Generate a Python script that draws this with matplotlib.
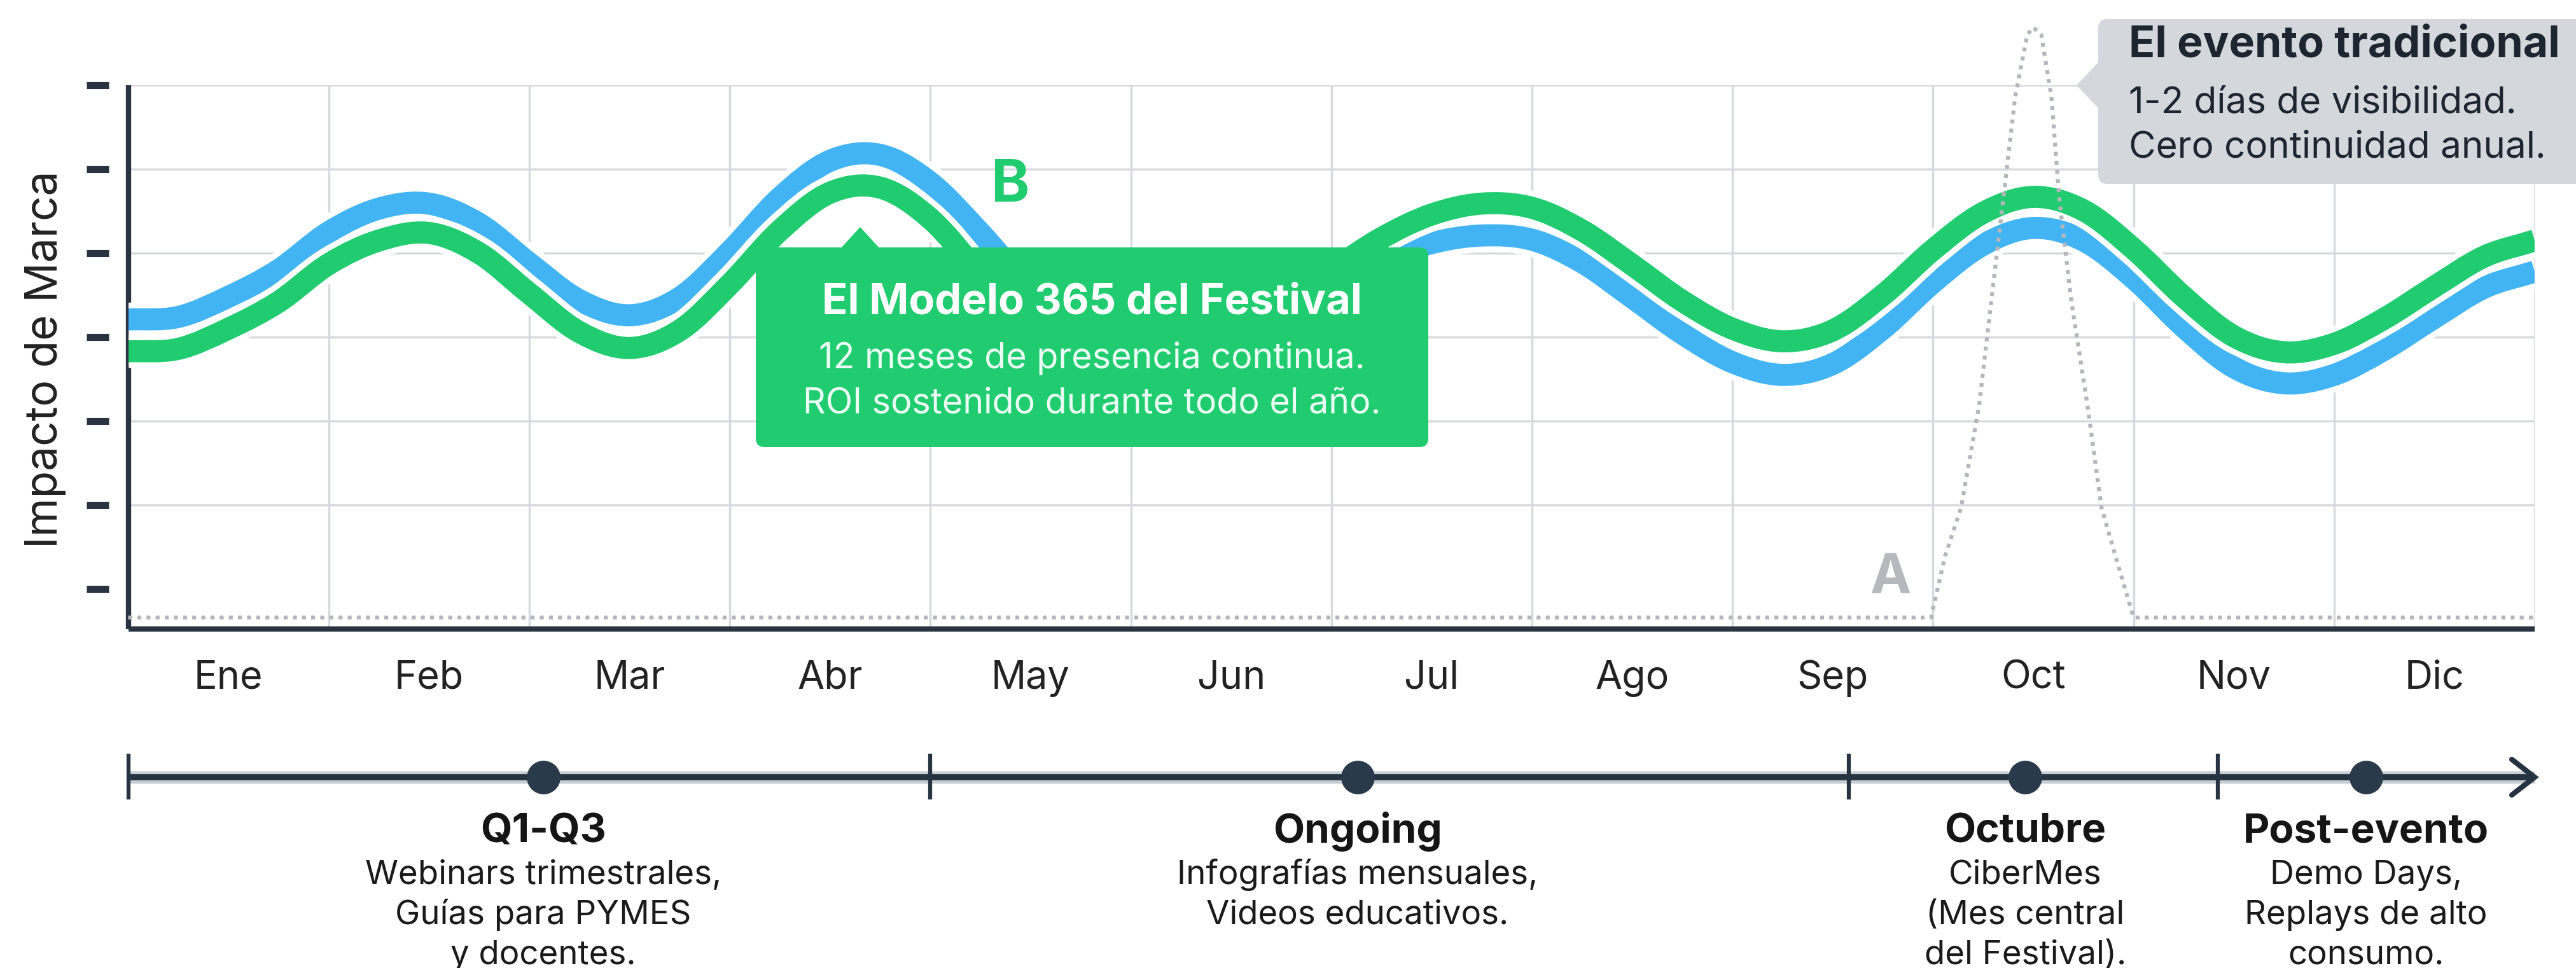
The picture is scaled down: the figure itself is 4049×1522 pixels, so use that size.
import matplotlib
matplotlib.use('Agg')
import matplotlib.pyplot as plt
import matplotlib.patheffects as pe
import numpy as np
from matplotlib.path import Path
from matplotlib.patches import PathPatch, FancyBboxPatch, Polygon

plt.rcParams['font.family'] = ['Inter', 'DejaVu Sans']

# --- data ---
months = ['Ene', 'Feb', 'Mar', 'Abr', 'May', 'Jun', 'Jul', 'Ago', 'Sep', 'Oct', 'Nov', 'Dic']

# curves sampled every quarter month, 0 .. 12
x_quarter = np.linspace(0, 12, 49)
serie_azul = [3.21, 3.24, 3.48, 3.80, 4.25, 4.53, 4.59, 4.35, 3.88, 3.44, 3.26, 3.47, 4.02,
              4.66, 5.10, 5.17, 4.84, 4.24, 3.57, 3.05, 2.85, 2.91, 3.09, 3.35, 3.64, 3.91,
              4.12, 4.21, 4.16, 3.89, 3.47, 3.04, 2.70, 2.55, 2.68, 3.10, 3.65, 4.10, 4.30,
              4.15, 3.70, 3.12, 2.64, 2.45, 2.55, 2.85, 3.23, 3.59, 3.78]
serie_verde = [2.83, 2.86, 3.10, 3.42, 3.87, 4.15, 4.24, 4.00, 3.52, 3.06, 2.87, 3.08, 3.63,
               4.27, 4.72, 4.78, 4.41, 3.74, 3.04, 2.58, 2.51, 2.67, 2.97, 3.36, 3.79, 4.18,
               4.46, 4.59, 4.54, 4.27, 3.86, 3.43, 3.10, 2.95, 3.08, 3.50, 4.04, 4.48, 4.67,
               4.51, 4.05, 3.48, 3.01, 2.82, 2.92, 3.22, 3.60, 3.96, 4.15]

# traditional event (A): flat line with a one-off spike in October
evento_x = [0, 8.99, 9.06, 9.14, 9.23, 9.29, 9.35, 9.41, 9.47, 9.50, 9.54, 9.59, 9.63,
            9.69, 9.77, 9.84, 9.91, 10.0, 12]
evento_y = [-0.34, -0.34, 0.39, 0.97, 2.19, 3.42, 4.64, 5.87, 6.60, 6.69, 6.60, 5.87, 4.64,
            3.42, 2.19, 0.97, 0.39, -0.34, -0.34]

y_ticks = [0, 1, 2, 3, 4, 5, 6]

# timeline below
fase_limite = [0, 4.0, 8.58, 10.42]
fase_punto = [2.07, 6.13, 9.46, 11.16]
fase_titulo = ['Q1-Q3', 'Ongoing', 'Octubre', 'Post-evento']
fase_texto = [['Webinars trimestrales,', 'Guías para PYMES', 'y docentes.'],
              ['Infografías mensuales,', 'Videos educativos.'],
              ['CiberMes', '(Mes central', 'del Festival).'],
              ['Demo Days,', 'Replays de alto', 'consumo.']]

# --- style ---
W, H = 4049, 1522
AZUL = '#42b4f3'
VERDE = '#20cc6f'
OSCURO = '#2a3440'
GRIS_GRID = '#d6d9dd'


def smooth_path(xs, ys):
    # Catmull-Rom through the read points, drawn as cubic Bezier pieces
    p = np.column_stack([xs, ys])
    ext = np.vstack([2 * p[0] - p[1], p, 2 * p[-1] - p[-2]])
    verts = [p[0]]
    codes = [Path.MOVETO]
    for i in range(1, len(ext) - 2):
        c1 = ext[i] + (ext[i + 1] - ext[i - 1]) / 6
        c2 = ext[i + 1] - (ext[i + 2] - ext[i]) / 6
        verts += [c1, c2, ext[i + 1]]
        codes += [Path.CURVE4] * 3
    return Path(verts, codes)


fig = plt.figure(figsize=(W / 100, H / 100), dpi=100)
fig.patch.set_facecolor('white')

# main chart
ax = fig.add_axes([201.5 / W, 1 - 989 / H, (3984 - 201.5) / W, (989 - 134) / H])
ax.set_xlim(0, 12)
ax.set_ylim(-0.477, 6.0)
ax.set_facecolor('white')

for s in ['top', 'right']:
    ax.spines[s].set_visible(False)
for s in ['left', 'bottom']:
    ax.spines[s].set_color(OSCURO)
    ax.spines[s].set_linewidth(6)
    ax.spines[s].set_capstyle('butt')

ax.set_xticks(range(1, 13))
ax.set_xticklabels([])
ax.set_xticks(np.arange(12) + 0.5, labels=months, minor=True)
ax.set_yticks(y_ticks)
ax.set_yticklabels([])
ax.tick_params(axis='both', which='major', length=0)
ax.tick_params(axis='x', which='minor', length=0, pad=35, labelsize=44, labelcolor='#222222')
ax.grid(True, which='major', color=GRIS_GRID, lw=2.5, zorder=0)
ax.get_ygridlines()[0].set_visible(False)
ax.set_axisbelow(True)

# short detached tick marks on the y axis
ax.hlines(y_ticks, -0.0173, -0.0081, transform=ax.get_yaxis_transform(),
          color=OSCURO, lw=8, clip_on=False)

halo = [pe.Stroke(linewidth=38, foreground='white'), pe.Normal()]
for serie, color in [(serie_azul, AZUL), (serie_verde, VERDE)]:
    patch = PathPatch(smooth_path(x_quarter, serie), fill=False, edgecolor=color, lw=25,
                      capstyle='butt', joinstyle='round', zorder=3)
    patch.set_path_effects(halo)
    ax.add_patch(patch)

ax.plot(evento_x, evento_y, color='#b3b7bc', lw=4.5, linestyle=(0, (1, 1.3)),
        clip_on=False, zorder=4)

ax.text(4.40, 4.61, 'B', color=VERDE, fontsize=66, fontweight='bold', ha='center',
        va='baseline', zorder=5)
ax.text(8.79, -0.06, 'A', color='#b5b9be', fontsize=62, fontweight='bold', ha='center',
        va='baseline', zorder=5)

fig.text(72 / W, 1 - 565 / H, 'Impacto de Marca', rotation=90, ha='center', va='center',
         fontsize=50, color='#222222')

# timeline
tl = fig.add_axes([201.5 / W, 0, (3984 - 201.5) / W, 372 / H])
tl.set_xlim(0, 12)
tl.set_ylim(H, 1150)
tl.axis('off')
LINE_Y = 1222
tl.plot([0, 12], [LINE_Y, LINE_Y], color='#c8ced5', lw=14, solid_capstyle='butt', clip_on=False)
tl.plot([0, 12], [LINE_Y, LINE_Y], color='#263340', lw=7, solid_capstyle='butt', clip_on=False)
tl.plot([12 - 0.114, 12, 12 - 0.114], [LINE_Y - 28, LINE_Y, LINE_Y + 28], color='#263340',
        lw=6, solid_capstyle='round', solid_joinstyle='miter', clip_on=False)
tl.vlines(fase_limite, LINE_Y - 37, LINE_Y + 35, color='#263340', lw=4.5, clip_on=False)
tl.plot(fase_punto, [LINE_Y] * len(fase_punto), 'o', ms=37, color='#2b3a4a', clip_on=False)
for xp, titulo, lineas in zip(fase_punto, fase_titulo, fase_texto):
    tl.text(xp, 1325, titulo, ha='center', va='baseline', fontsize=46, fontweight='bold',
            color='#151515', clip_on=False)
    for j, linea in enumerate(lineas):
        tl.text(xp, 1390 + 63 * j, linea, ha='center', va='baseline', fontsize=38,
                color='#1a1a1a', clip_on=False)

# annotation boxes, placed in figure pixels
ov = fig.add_axes([0, 0, 1, 1])
ov.set_xlim(0, W)
ov.set_ylim(H, 0)
ov.axis('off')

ov.add_patch(FancyBboxPatch((1188, 389), 1057, 314, boxstyle='round,pad=0,rounding_size=14',
                            fc=VERDE, ec='none'))
ov.add_patch(Polygon([[1320, 392], [1352, 357], [1384, 392]], closed=True, fc=VERDE, ec='none'))
ov.text(1716, 494, 'El Modelo 365 del Festival', ha='center', va='baseline', fontsize=48,
        fontweight='bold', color='white')
ov.text(1716, 579, '12 meses de presencia continua.', ha='center', va='baseline', fontsize=40,
        color='#eafff3')
ov.text(1716, 649, 'ROI sostenido durante todo el año.', ha='center', va='baseline', fontsize=40,
        color='#eafff3')

ov.add_patch(FancyBboxPatch((3298, 30), 800, 259, boxstyle='round,pad=0,rounding_size=14',
                            fc='#d4d7db', ec='none'))
ov.add_patch(Polygon([[3300, 96], [3264, 134], [3300, 172]], closed=True, fc='#d4d7db', ec='none'))
ov.text(3346, 90, 'El evento tradicional', ha='left', va='baseline', fontsize=49,
        fontweight='bold', color='#1d2630')
ov.text(3346, 177, '1-2 días de visibilidad.', ha='left', va='baseline', fontsize=42,
        color='#1d2630')
ov.text(3346, 248, 'Cero continuidad anual.', ha='left', va='baseline', fontsize=42,
        color='#1d2630')

fig.savefig('out.png', dpi=100, facecolor='white')
